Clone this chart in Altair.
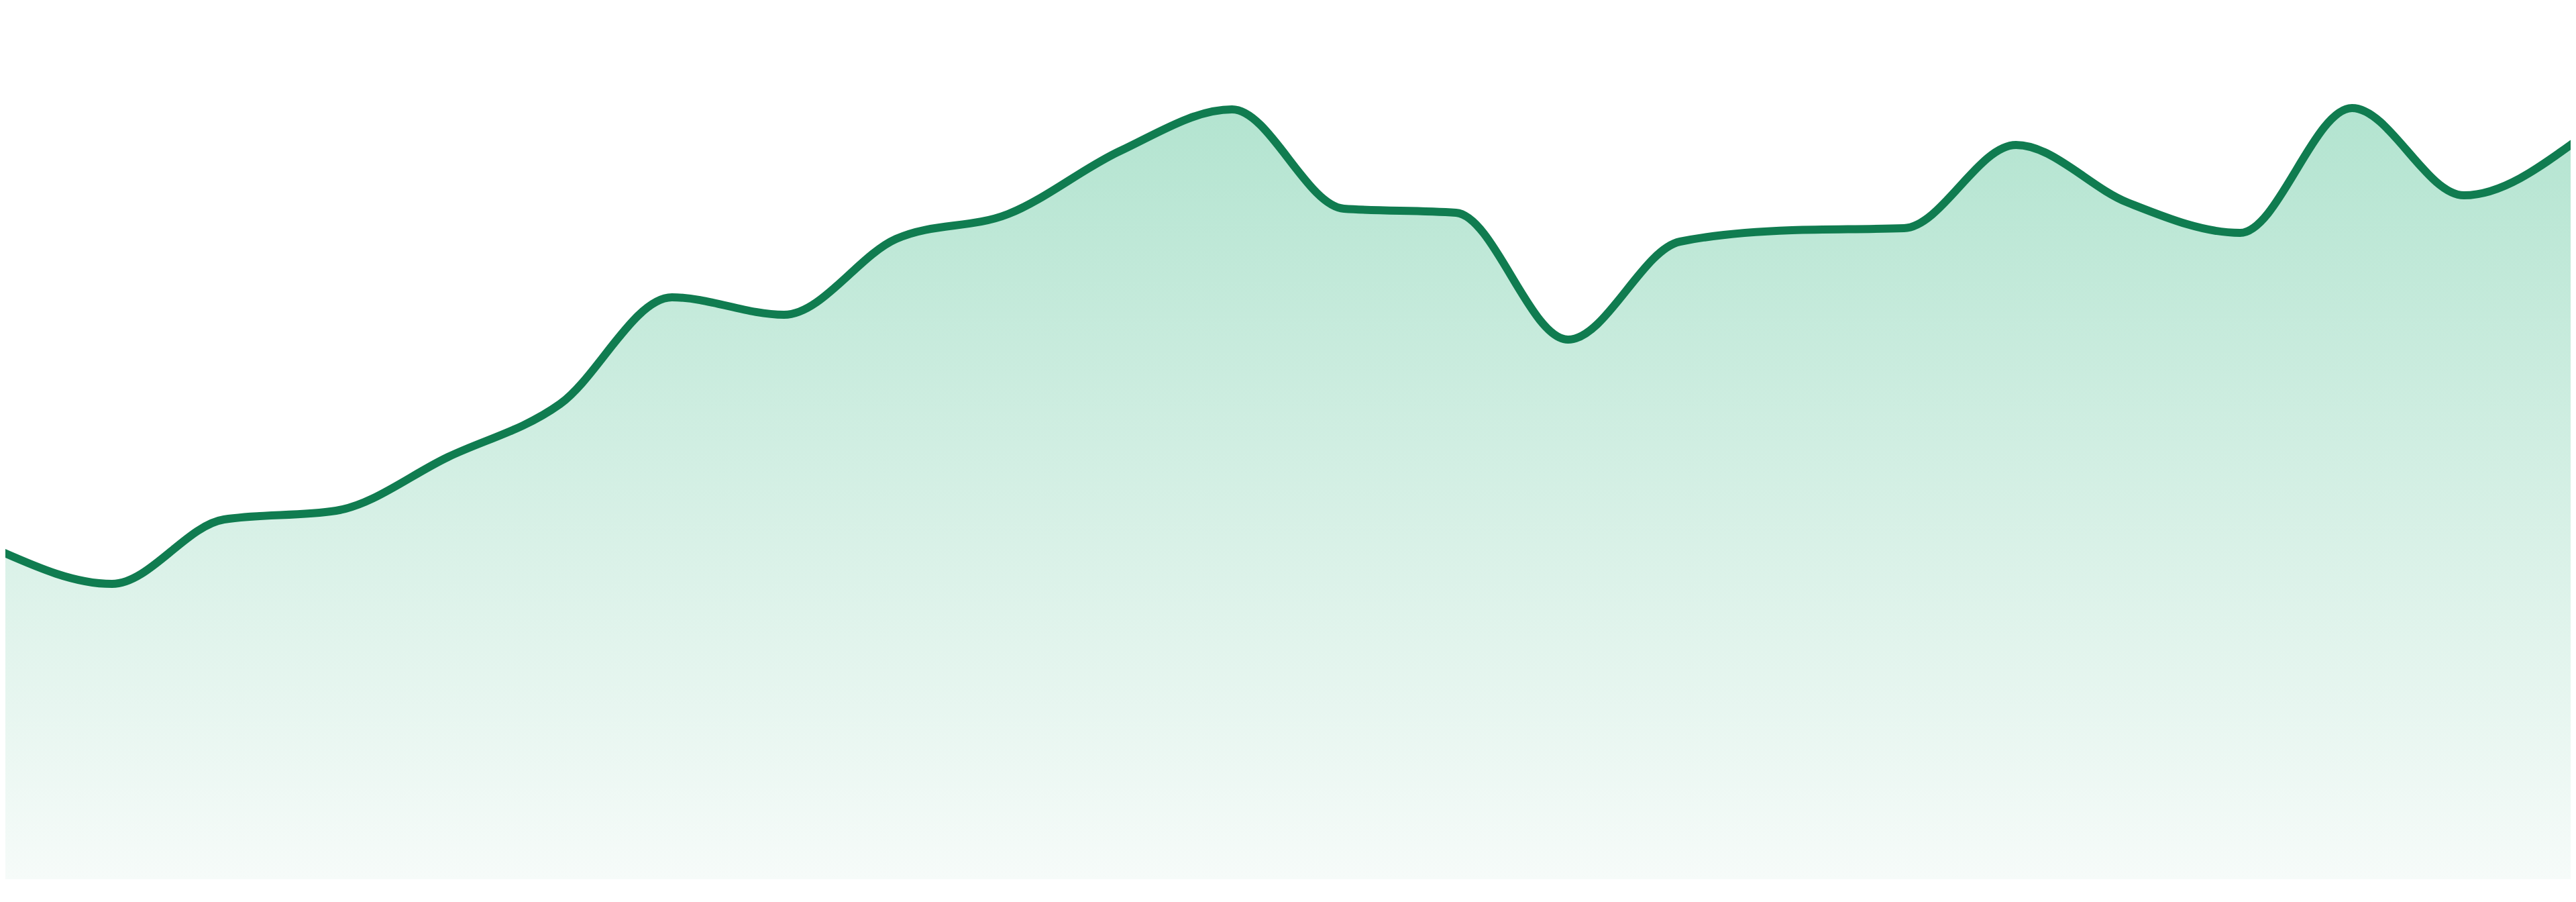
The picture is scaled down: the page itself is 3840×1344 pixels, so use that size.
import altair as alt
import pandas as pd

# Index of each sample along the x axis
idx = list(range(24))
# Series values
values = [
    48.9, 44.0, 53.6, 54.9, 62.9, 70.8, 86.7, 84.1,
    95.4, 99.1, 108.5, 114.7, 99.9, 99.3, 80.4, 95.0,
    96.7, 97.0, 109.4, 100.8, 96.3, 114.9, 101.9, 110.0,
]

df = pd.DataFrame({"i": idx, "v": values})

xs = alt.Scale(domain=[0.048, 22.952], nice=False, zero=False)
ys = alt.Scale(domain=[-2.6, 130.2], nice=False, zero=False)

base = alt.Chart(df).encode(
    x=alt.X("i:Q", scale=xs, axis=None),
)

area = base.mark_area(
    interpolate="monotone",
    clip=True,
    color=alt.Gradient(
        gradient="linear",
        stops=[
            alt.GradientStop(color="#b3e4d0", offset=0),
            alt.GradientStop(color="#f6fbf9", offset=1),
        ],
        x1=0, x2=0, y1=0, y2=1,
    ),
).encode(
    y=alt.Y("v:Q", scale=ys, axis=None),
    y2=alt.datum(0),
)

line = base.mark_line(
    interpolate="monotone",
    clip=True,
    color="#107c50",
    strokeWidth=12,
    strokeCap="round",
    strokeJoin="round",
).encode(
    y=alt.Y("v:Q", scale=ys, axis=None),
)

chart = (
    alt.layer(area, line)
    .properties(width=3824, height=1328, padding=0, background="white")
    .configure_view(stroke=None)
)

chart.save("out.html", embed_options={"renderer": "svg", "actions": False})
